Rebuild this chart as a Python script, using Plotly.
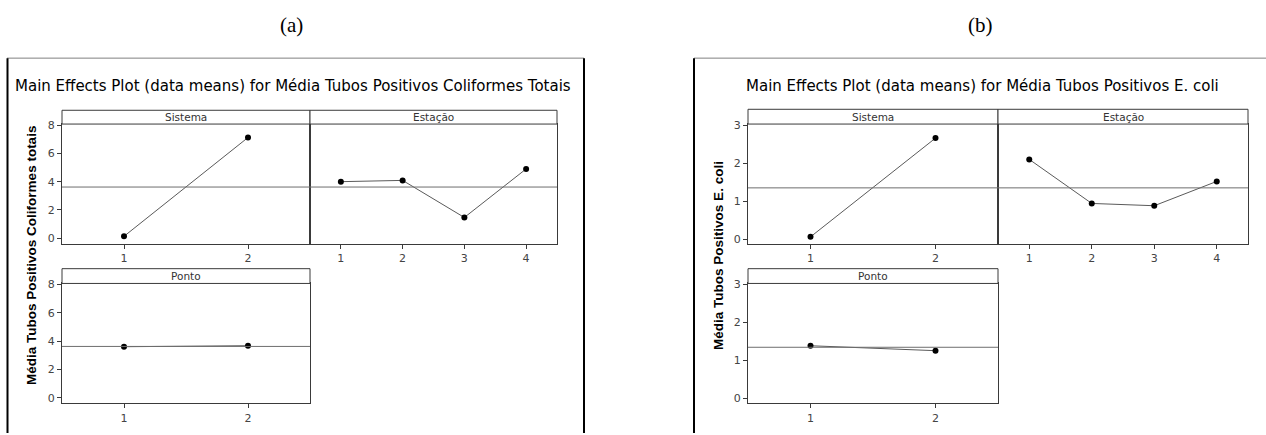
import plotly.graph_objects as go

W, H = 1266, 435

# ---------------- data ----------------
factor_names = ["Sistema", "Estação", "Ponto"]
levels_sistema = [1, 2]
levels_estacao = [1, 2, 3, 4]
levels_ponto = [1, 2]

# (a) Média Tubos Positivos Coliformes Totais
ct_sistema = [0.14, 7.12]
ct_estacao = [4.00, 4.09, 1.47, 4.90]
ct_ponto = [3.60, 3.67]
ct_mean = 3.62
ct_yticks = [0, 2, 4, 6, 8]

# (b) Média Tubos Positivos E. coli
ec_sistema = [0.06, 2.66]
ec_estacao = [2.10, 0.94, 0.88, 1.52]
ec_ponto = [1.39, 1.26]
ec_mean = 1.35
ec_yticks = [0, 1, 2, 3]

title_a = "Main Effects Plot (data means) for Média Tubos Positivos Coliformes Totais"
title_b = "Main Effects Plot (data means) for Média Tubos Positivos E. coli"
ytitle_a = "Média Tubos Positivos Coliformes totais"
ytitle_b = "Média Tubos Positivos E. coli"


def PX(x):
    return x / W


def PY(y):
    return 1 - y / H


FONT = "DejaVu Sans"
FRAME = "#3a3a3a"

fig = go.Figure()
shapes = []
annotations = []

panels = [
    # levels, values, mean, x px, data y px, header top px, yrange, yticks, showlabels, name
    (levels_sistema, ct_sistema, ct_mean, (62, 310), (121, 243), 107, [-0.41, 8.07], ct_yticks, True, factor_names[0]),
    (levels_estacao, ct_estacao, ct_mean, (310, 557), (121, 243), 107, [-0.41, 8.07], ct_yticks, False, factor_names[1]),
    (levels_ponto, ct_ponto, ct_mean, (62, 310), (283, 405), 268, [-0.41, 8.07], ct_yticks, True, factor_names[2]),
    (levels_sistema, ec_sistema, ec_mean, (748, 998), (121, 243), 106, [-0.13, 3.03], ec_yticks, True, factor_names[0]),
    (levels_estacao, ec_estacao, ec_mean, (998, 1248), (121, 243), 106, [-0.13, 3.03], ec_yticks, False, factor_names[1]),
    (levels_ponto, ec_ponto, ec_mean, (748, 998), (283, 405), 268, [-0.13, 3.03], ec_yticks, True, factor_names[2]),
]

layout_axes = {}
for i, (lv, vals, mean, xpx, ypx, htop, yr, yt, showlab, name) in enumerate(panels, start=1):
    xa = "x" if i == 1 else f"x{i}"
    ya = "y" if i == 1 else f"y{i}"
    xkey = "xaxis" if i == 1 else f"xaxis{i}"
    ykey = "yaxis" if i == 1 else f"yaxis{i}"
    fig.add_trace(go.Scatter(
        x=lv, y=vals, xaxis=xa, yaxis=ya, mode="lines+markers",
        line=dict(color="#5a5a5a", width=1),
        marker=dict(color="black", size=6),
        showlegend=False, hoverinfo="x+y",
    ))
    layout_axes[xkey] = dict(
        domain=[PX(xpx[0]), PX(xpx[1])], anchor=ya,
        range=[0.5, len(lv) + 0.5], tickvals=lv, ticktext=[str(v) for v in lv],
        ticks="outside", ticklen=4, tickcolor=FRAME, showgrid=False, zeroline=False,
        showline=True, mirror=True, linecolor=FRAME, linewidth=1,
        tickfont=dict(family=FONT, size=11, color="#444"),
        fixedrange=True,
    )
    layout_axes[ykey] = dict(
        domain=[PY(ypx[1]), PY(ypx[0])], anchor=xa,
        range=yr, tickvals=yt if showlab else [],
        ticks="outside" if showlab else "", ticklen=4, tickcolor=FRAME,
        showticklabels=showlab, showgrid=False, zeroline=False,
        showline=True, mirror=True, linecolor=FRAME, linewidth=1,
        tickfont=dict(family=FONT, size=11, color="#444"),
        fixedrange=True,
    )
    # mean reference line
    shapes.append(dict(type="line", xref=f"{xa} domain", yref=ya, x0=0, x1=1, y0=mean, y1=mean,
                       line=dict(color="#6e6e6e", width=1)))
    # header strip
    shapes.append(dict(type="rect", xref="paper", yref="paper",
                       x0=PX(xpx[0]), x1=PX(xpx[1]), y0=PY(ypx[0]), y1=PY(htop),
                       line=dict(color=FRAME, width=1), fillcolor="white"))
    annotations.append(dict(text=name, xref="paper", yref="paper",
                            x=PX((xpx[0] + xpx[1]) / 2), y=PY((htop + ypx[0]) / 2),
                            xanchor="center", yanchor="middle", showarrow=False,
                            font=dict(family=FONT, size=10.5, color="#333")))

# outer boxes
shapes.append(dict(type="line", xref="paper", yref="paper", x0=PX(7), x1=PX(584), y0=PY(54), y1=PY(54),
                   line=dict(color="#808080", width=1)))
shapes.append(dict(type="line", xref="paper", yref="paper", x0=PX(7.5), x1=PX(7.5), y0=PY(54), y1=0,
                   line=dict(color="black", width=2)))
shapes.append(dict(type="line", xref="paper", yref="paper", x0=PX(584), x1=PX(584), y0=PY(54), y1=0,
                   line=dict(color="black", width=2)))
shapes.append(dict(type="line", xref="paper", yref="paper", x0=PX(694), x1=1, y0=PY(54), y1=PY(54),
                   line=dict(color="#808080", width=1)))
shapes.append(dict(type="line", xref="paper", yref="paper", x0=PX(694), x1=PX(694), y0=PY(54), y1=0,
                   line=dict(color="black", width=2)))

# labels (a), (b)
annotations.append(dict(text="(a)", xref="paper", yref="paper", x=PX(291), y=PY(20),
                        xanchor="center", yanchor="middle", showarrow=False,
                        font=dict(family="Liberation Serif", size=21, color="black")))
annotations.append(dict(text="(b)", xref="paper", yref="paper", x=PX(981), y=PY(20),
                        xanchor="center", yanchor="middle", showarrow=False,
                        font=dict(family="Liberation Serif", size=21, color="black")))
# titles
annotations.append(dict(text=title_a, xref="paper", yref="paper", x=PX(293), y=PY(82),
                        xanchor="center", yanchor="middle", showarrow=False,
                        font=dict(family=FONT, size=15, color="black")))
annotations.append(dict(text=title_b, xref="paper", yref="paper", x=PX(982), y=PY(82),
                        xanchor="center", yanchor="middle", showarrow=False,
                        font=dict(family=FONT, size=15, color="black")))
# y titles
annotations.append(dict(text=f"<b>{ytitle_a}</b>", xref="paper", yref="paper", x=PX(32), y=PY(255),
                        xanchor="center", yanchor="middle", showarrow=False, textangle=-90,
                        font=dict(family="Liberation Sans", size=13.5, color="black")))
annotations.append(dict(text=f"<b>{ytitle_b}</b>", xref="paper", yref="paper", x=PX(719), y=PY(255),
                        xanchor="center", yanchor="middle", showarrow=False, textangle=-90,
                        font=dict(family="Liberation Sans", size=13.5, color="black")))

fig.update_layout(
    width=W, height=H,
    margin=dict(l=0, r=0, t=0, b=0),
    paper_bgcolor="white", plot_bgcolor="white",
    shapes=shapes, annotations=annotations,
    showlegend=False,
    **layout_axes,
)

pin = ("document.body.style.margin='0';"
       "var gd=document.getElementById('{plot_id}');"
       "gd.style.position='fixed';gd.style.left='0px';gd.style.top='0px';")

fig.write_html("out.html", post_script=pin, config={"displayModeBar": False})
